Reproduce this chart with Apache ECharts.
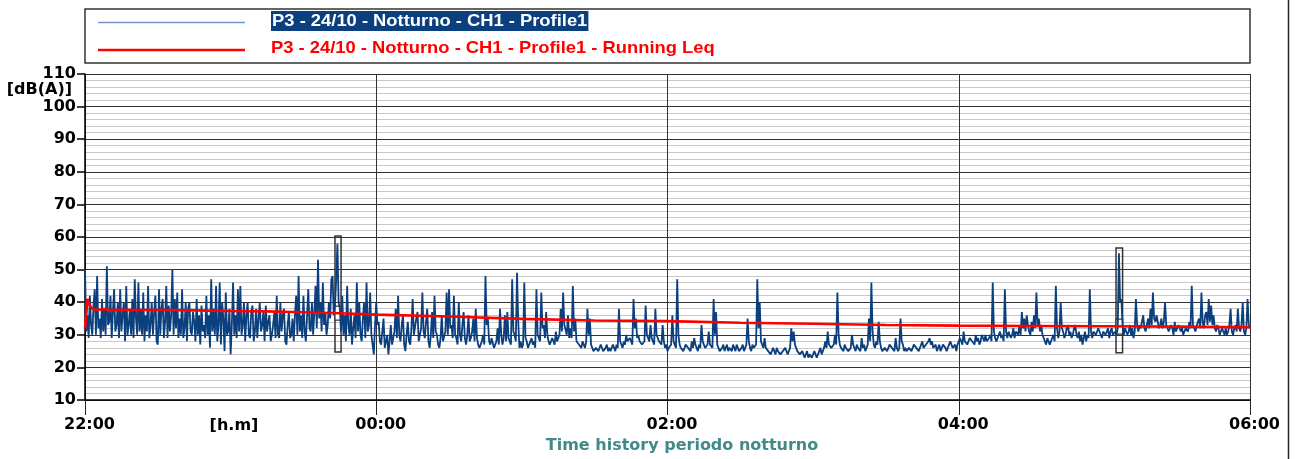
<!DOCTYPE html>
<html>
<head>
<meta charset="utf-8">
<title>Time history periodo notturno</title>
<script src="https://cdn.jsdelivr.net/npm/echarts@6/dist/echarts.min.js"></script>
<style>
  html, body { margin: 0; padding: 0; background: #fff; }
  #chart { width: 1295px; height: 459px; }
</style>
</head>
<body>
<div id="chart"></div>
<script>
// Night-time sound level history, one sample every 30 s from 22:00 to 06:00.
const stepMinutes = 0.5;
const timeLabels = ['22:00', '00:00', '02:00', '04:00', '06:00'];
const seriesNames = [
  'P3 - 24/10 - Notturno - CH1 - Profile1',
  'P3 - 24/10 - Notturno - CH1 - Profile1 - Running Leq'
];

// LAeq per 30 s [dB(A)], hour by hour
const levels22 = [
  50,31, 36,29, 42,33, 30,39, 44,30, 48,32, 35,29, 41,31, 38,30, 51,33,
  34,42, 29,37, 44,31, 33,40, 29,44, 31,36, 40,28, 45,30, 33,38, 30,41,
  29,47, 35,30, 46,31, 38,30, 43,28, 36,31, 45,29, 33,40, 30,37, 42,28,
  27,44, 30,38, 41,29, 34,45, 29,39, 31,36, 50,30, 41,32, 43,29, 35,30,
  44,29, 32,40, 28,38, 40,31, 30,37, 34,28, 41,30, 36,27, 39,31, 33,29,
  42,30, 36,26, 47,31, 38,30, 45,28, 33,46, 27,40, 35,25, 43,30, 31,38];
const levels23 = [
  24,33, 46,30, 36,29, 44,31, 45,30, 33,40, 28,36, 40,30, 29,37, 39,28,
  31,38, 29,35, 40,31, 33,37, 28,39, 31,34, 36,28, 30,33, 37,29, 42,30,
  29,40, 31,36, 38,28, 27,33, 37,29, 30,35, 28,36, 42,30, 48,31, 36,29,
  42,31, 28,36, 44,32, 31,40, 30,37, 45,32, 53,35, 40,31, 46,33, 37,30,
  33,40, 35,47, 48,36, 39,47, 58,40, 38,31, 42,30, 36,28, 45,33, 30,38,
  27,32, 36,29, 46,31, 40,30, 28,35, 40,29, 46,31, 33,43, 30,27, 24,33];
const levels00 = [
  40,33, 34,28, 27,31, 35,26, 26,30, 24,28, 33,27, 27,31, 38,29, 42,30,
  28,33, 36,27, 25,30, 34,28, 27,32, 41,30, 30,35, 37,28, 28,32, 43,31,
  29,34, 38,28, 26,30, 37,29, 42,31, 30,27, 26,29, 36,28, 28,31, 43,30,
  44,32, 33,29, 42,30, 29,27, 40,30, 28,33, 37,29, 27,30, 36,28, 29,31,
  35,28, 38,29, 27,26, 26,28, 30,27, 48,33, 35,28, 27,29, 29,26, 26,28,
  32,27, 38,30, 27,29, 36,28, 37,29, 29,27, 47,31, 30,28, 49,34, 26,28];
const levels01 = [
  26,27, 46,29, 28,26, 27,28, 29,27, 28,26, 44,30, 30,28, 43,32, 33,29,
  37,30, 28,27, 27,29, 29,27, 31,28, 28,30, 38,31, 43,33, 33,30, 36,29,
  32,29, 45,31, 35,28, 28,27, 27,26, 28,27, 26,28, 38,30, 35,27, 26,25,
  25,26, 26,25, 25,27, 26,25, 25,26, 27,25, 26,25, 25,27, 26,25, 27,26,
  38,28, 27,26, 28,27, 30,28, 28,29, 29,27, 41,32, 35,29, 30,28, 28,27,
  27,28, 39,30, 30,28, 33,29, 28,27, 38,30, 30,28, 28,27, 33,28, 26,27];
const levels02 = [
  25,26, 26,27, 36,28, 27,26, 47,30, 27,26, 26,25, 25,27, 27,26, 26,25,
  28,26, 29,27, 26,25, 27,26, 33,28, 27,26, 26,27, 31,27, 27,26, 41,30,
  37,27, 26,25, 25,26, 27,25, 26,27, 25,26, 26,25, 27,26, 25,27, 26,25,
  25,26, 27,25, 26,27, 35,28, 26,25, 27,26, 26,27, 47,32, 40,28, 27,26,
  29,26, 26,25, 25,24, 24,26, 25,24, 26,25, 25,24, 24,25, 25,26, 26,24,
  25,26, 32,28, 31,27, 26,25, 25,24, 24,25, 25,23, 24,25, 23,24, 24,23];
const levels03 = [
  24,25, 25,23, 24,25, 26,24, 25,26, 28,26, 31,27, 27,26, 26,27, 30,27,
  43,30, 27,26, 26,25, 27,26, 26,25, 25,26, 30,27, 26,25, 27,26, 26,25,
  29,26, 27,25, 26,27, 35,28, 46,31, 27,26, 28,27, 34,28, 26,25, 25,26,
  26,25, 25,27, 27,26, 26,25, 29,26, 25,26, 35,28, 27,25, 26,25, 25,26,
  26,25, 25,27, 27,26, 26,25, 25,27, 28,26, 26,27, 27,28, 29,27, 28,26,
  26,27, 25,26, 27,25, 26,27, 27,26, 25,26, 26,28, 27,26, 26,27, 25,27];
const levels04 = [
  27,29, 29,27, 31,28, 28,27, 27,29, 29,28, 28,27, 30,28, 29,27, 28,30,
  29,28, 30,28, 28,29, 30,28, 46,31, 29,28, 28,30, 31,29, 30,28, 44,31,
  29,31, 31,29, 30,32, 29,31, 31,30, 33,30, 37,32, 35,31, 36,33, 31,30,
  34,31, 36,32, 43,33, 35,31, 33,30, 29,28, 27,29, 28,27, 27,29, 30,28,
  45,32, 29,31, 40,32, 31,29, 30,32, 33,30, 31,29, 30,32, 33,30, 29,31,
  28,30, 27,29, 31,28, 30,29, 44,31, 29,31, 31,30, 30,32, 32,30, 29,31];
const levels05 = [
  31,30, 30,32, 29,31, 32,30, 30,31, 30,32, 55,40, 41,33, 30,32, 32,30,
  31,33, 30,32, 29,31, 41,33, 31,33, 32,34, 36,32, 31,33, 35,32, 38,33,
  43,35, 34,36, 36,32, 33,35, 32,34, 40,33, 33,31, 31,33, 32,30, 34,31,
  31,33, 33,31, 32,30, 30,32, 32,31, 34,32, 45,33, 33,31, 31,34, 35,32,
  43,34, 32,36, 37,33, 41,34, 39,33, 36,32, 31,33, 32,30, 30,32, 31,30,
  32,30, 31,33, 38,31, 30,32, 33,31, 38,32, 31,33, 40,31, 30,32, 41,33,
  32];

// Running Leq [dB(A)] at the given minute offsets
const leqMinutes = [0, 0.5, 1, 2, 3, 5, 8, 10, 15, 20, 30, 45, 60, 75, 90, 105, 120,
                    150, 180, 210, 240, 270, 300, 330, 360, 390, 420, 450, 480];
const leqValues  = [32, 36, 41, 39, 38, 37.6, 37.9, 37.5, 37.7, 37.6, 37.6, 37.5, 37.3, 37.2, 36.9, 36.6, 36.2,
                    35.6, 34.9, 34.4, 34.2, 33.7, 33.4, 33.0, 32.8, 32.7, 32.6, 32.5, 32.3];

// Highlighted events: [startMin, endMin, low dB, high dB]
const eventBoxes = [[103.0, 105.5, 24.7, 60.3], [424.8, 427.5, 24.5, 56.6]];
const eventTags  = [[103.0, 105.5, 34.5, 38.8], [424.8, 427.5, 30.2, 34.8]];

const levels = [].concat(levels22, levels23, levels00, levels01, levels02, levels03, levels04, levels05);
const levelData = levels.map((v, i) => [i * stepMinutes, v]);
const leqData = leqMinutes.map((m, i) => [m, leqValues[i]]);

const boxAreas = eventBoxes.map(b => [
  { coord: [b[0], b[3]], itemStyle: { color: 'rgba(255,255,255,0)', borderColor: '#333', borderWidth: 1.5 } },
  { coord: [b[1], b[2]] }
]).concat(eventTags.map(b => [
  { coord: [b[0], b[3]], itemStyle: { color: '#fff', borderColor: '#333', borderWidth: 1.2 } },
  { coord: [b[1], b[2]] }
]));

const boldAxisFont = { fontFamily: 'DejaVu Sans', fontWeight: 'bold', fontSize: 16, color: '#000' };

const chart = echarts.init(document.getElementById('chart'), null, { renderer: 'canvas' });
chart.setOption({
  animation: false,
  backgroundColor: '#fff',
  grid: { left: 85, right: 45, top: 74, bottom: 59, containLabel: false },
  xAxis: {
    type: 'value', min: 0, max: 480, interval: 120,
    axisLine: { show: true, onZero: false, lineStyle: { color: '#000', width: 1.5 } },
    axisTick: { show: true, length: 15, lineStyle: { color: '#222', width: 1 } },
    axisLabel: Object.assign({ formatter: v => timeLabels[v / 120], margin: 17, padding: [0, 0, 0, 9],
                               showMinLabel: true, showMaxLabel: true }, boldAxisFont),
    splitLine: { show: true, lineStyle: { color: '#333', width: 1 } },
    name: 'Time history periodo notturno',
    nameLocation: 'middle', nameGap: 38,
    nameTextStyle: { fontFamily: 'DejaVu Sans', fontWeight: 'bold', fontSize: 16, color: '#428a8a', padding: [0, 0, 0, 29] }
  },
  yAxis: {
    type: 'value', min: 10, max: 110, interval: 10,
    axisLine: { show: true, onZero: false, lineStyle: { color: '#000', width: 1.5 } },
    axisTick: { show: true, length: 8, lineStyle: { color: '#000', width: 1.5 } },
    axisLabel: Object.assign({ margin: 9, showMinLabel: true, showMaxLabel: true }, boldAxisFont),
    splitLine: { show: true, lineStyle: { color: '#333', width: 1 } },
    minorTick: { show: false, splitNumber: 5 },
    minorSplitLine: { show: true, lineStyle: { color: '#c8c8c8', width: 1 } }
  },
  series: [
    {
      name: seriesNames[0], type: 'line', data: levelData,
      showSymbol: false, symbol: 'none', z: 2,
      lineStyle: { color: '#0b3f7e', width: 1.8 }
    },
    {
      name: seriesNames[1], type: 'line', data: leqData,
      showSymbol: false, symbol: 'none', z: 3,
      lineStyle: { color: '#ff0000', width: 2.6 }
    },
    {
      name: 'events', type: 'line', data: [], z: 5, silent: true,
      markArea: { silent: true, label: { show: false }, data: boxAreas }
    }
  ],
  graphic: [
    { type: 'rect', shape: { x: 85, y: 9, width: 1165, height: 54 },
      style: { fill: '#fff', stroke: '#333', lineWidth: 1.5 }, z: 1 },
    { type: 'line', shape: { x1: 98, y1: 22.5, x2: 245, y2: 22.5 },
      style: { stroke: '#6f95c6', lineWidth: 1.5 }, z: 2 },
    { type: 'line', shape: { x1: 98, y1: 50, x2: 245, y2: 50 },
      style: { stroke: '#ff0000', lineWidth: 2.6 }, z: 2 },
    { type: 'text', x: 271, y: 21, scaleX: 1.08, originX: 0, originY: 0, z: 2,
      style: { text: seriesNames[0], fill: '#fff', backgroundColor: '#0b3f7e', padding: [2, 1, 1, 1],
               font: 'bold 17px "Liberation Sans", Arial, sans-serif', verticalAlign: 'middle', align: 'left' } },
    { type: 'text', x: 271, y: 48, scaleX: 1.08, originX: 0, originY: 0, z: 2,
      style: { text: seriesNames[1], fill: '#ff0000',
               font: 'bold 17px "Liberation Sans", Arial, sans-serif', verticalAlign: 'middle', align: 'left' } },
    { type: 'text', x: 72, y: 90, z: 2,
      style: { text: '[dB(A)]', fill: '#000', font: 'bold 16px "DejaVu Sans"', align: 'right', verticalAlign: 'middle' } },
    { type: 'text', x: 234, y: 426, z: 2,
      style: { text: '[h.m]', fill: '#000', font: 'bold 16px "DejaVu Sans"', align: 'center', verticalAlign: 'middle' } },
    { type: 'line', shape: { x1: 1288.5, y1: 0, x2: 1288.5, y2: 459 },
      style: { stroke: '#222', lineWidth: 1.5 }, z: 2 }
  ]
});
</script>
</body>
</html>
